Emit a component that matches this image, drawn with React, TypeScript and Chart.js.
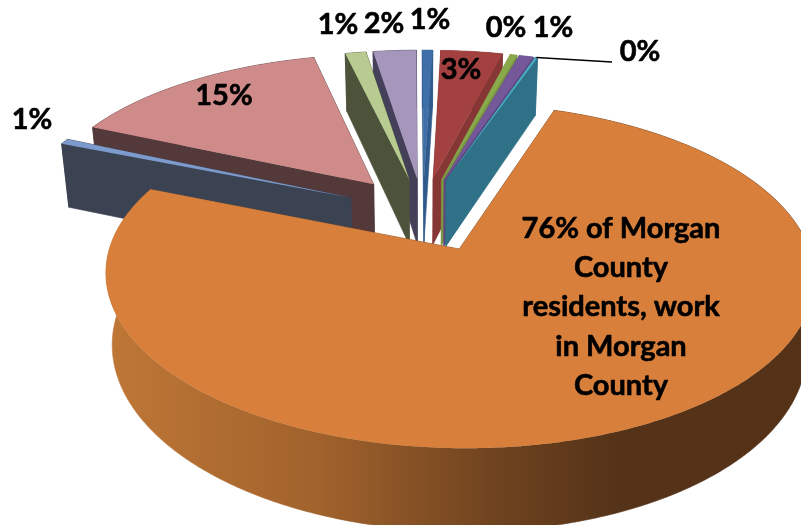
import React, { useEffect, useRef } from "react";
import { Chart, registerables } from "chart.js";

Chart.register(...registerables);

// Values, clockwise from 12 o'clock
const categories = ["Blue", "Red", "Green", "Violet", "Teal", "Morgan County", "Navy", "Rose", "Olive", "Lilac"];
const shares = [0.58, 3.47, 0.39, 0.8, 0.14, 75.81, 0.56, 14.67, 1.17, 2.42];
const explosion = [22, 22, 22, 22, 22, 25, 23.5, 23.5, 22, 22];
const sliceLabels = ["1%", "3%", "0%", "1%", "0%", "76% of Morgan\nCounty\nresidents, work\nin Morgan\nCounty", "1%", "15%", "1%", "2%"];

const topColors = ["#3F6FA8", "#A34140", "#8AA94B", "#75589A", "#4BACC6", "#D87F3B", "#7C9ACB", "#CE8B8A", "#B8CB90", "#A696BC"];
const wallColors = ["#2F5A8C", "#873636", "#7A9642", "#5F4680", "#2F7186", "#000000", "#3B4252", "#54393A", "#4D533A", "#45405A"];
const labelAnchors = [[430, 20], [461, 70], [506, 28], [553, 28], [640, 52], [621, 307], [32, 120], [224, 96], [338, 25], [384, 24]];

// Oblique perspective view of the pie plane (plane unit = one pie radius)
const VIEW = { x: 423, y: 212, a: 338, b: 157, p: 0.15, depth: 68, shrink: 0.98 };

function project(u: number, v: number, lower: boolean): [number, number] {
  const w = 1 - VIEW.p * v;
  const k = lower ? VIEW.shrink : 1;
  return [VIEW.x + (VIEW.a * u * k) / w, VIEW.y + (VIEW.b * v) / w + (lower ? VIEW.depth / w : 0)];
}

function fillPoly(ctx: CanvasRenderingContext2D, pts: [number, number][], style: any, seam = true) {
  ctx.beginPath();
  pts.forEach((p, i) => (i ? ctx.lineTo(p[0], p[1]) : ctx.moveTo(p[0], p[1])));
  ctx.closePath();
  ctx.fillStyle = style;
  ctx.fill();
  if (seam) {
    ctx.strokeStyle = style;
    ctx.lineWidth = 0.6;
    ctx.stroke();
  }
}

const pie3d = {
  id: "pie3d",
  beforeDatasetsDraw(chart: any) {
    const ctx: CanvasRenderingContext2D = chart.ctx;
    const arcs = chart.getDatasetMeta(0).data as any[];
    const mid = (el: any) => (el.startAngle + el.endAngle) / 2;
    const fromTop = (el: any) => {
      let d = mid(el) + Math.PI / 2;
      d = Math.atan2(Math.sin(d), Math.cos(d));
      return Math.abs(d);
    };
    const order = arcs.map((_, i) => i).sort((i, j) => fromTop(arcs[i]) - fromTop(arcs[j]));

    const wallGradient = ctx.createLinearGradient(106, 0, 815, 0);
    wallGradient.addColorStop(0, "#BF7736");
    wallGradient.addColorStop(0.3, "#A1622C");
    wallGradient.addColorStop(0.55, "#6F431F");
    wallGradient.addColorStop(0.72, "#553318");
    wallGradient.addColorStop(1, "#543117");

    ctx.save();
    order.forEach((i) => {
      const el = arcs[i];
      const e = explosion[i] / 100;
      const m = mid(el);
      const cu = Math.cos(m) * e;
      const cv = Math.sin(m) * e;
      const steps = Math.max(2, Math.ceil((el.endAngle - el.startAngle) / 0.01));
      const rimTop: [number, number][] = [];
      const rimLow: [number, number][] = [];
      for (let s = 0; s <= steps; s++) {
        const t = el.startAngle + ((el.endAngle - el.startAngle) * s) / steps;
        const u = cu + Math.cos(t);
        const v = cv + Math.sin(t);
        rimTop.push(project(u, v, false));
        rimLow.push(project(u, v, true));
      }
      const apexTop = project(cu, cv, false);
      const apexLow = project(cu, cv, true);
      const wall = i === 5 ? wallGradient : wallColors[i];
      fillPoly(ctx, [apexTop, rimTop[0], rimLow[0], apexLow], wall);
      fillPoly(ctx, [apexTop, rimTop[steps], rimLow[steps], apexLow], wall);
      fillPoly(ctx, [...rimTop, ...rimLow.slice().reverse()], wall);
      fillPoly(ctx, [apexTop, ...rimTop], topColors[i], false);
    });

    // Leader line of the Teal label
    const t = arcs[4];
    const tm = mid(t);
    const tip = project(Math.cos(tm) * (1 + explosion[4] / 100), Math.sin(tm) * (1 + explosion[4] / 100), false);
    ctx.beginPath();
    ctx.moveTo(tip[0], tip[1]);
    ctx.lineTo(labelAnchors[4][0] - 28, labelAnchors[4][1] + 10);
    ctx.strokeStyle = "#000000";
    ctx.lineWidth = 1.5;
    ctx.stroke();

    // Labels
    ctx.fillStyle = "#000000";
    ctx.strokeStyle = "#000000";
    ctx.lineWidth = 0.6;
    ctx.lineJoin = "round";
    ctx.font = "bold 29px Lato";
    ctx.textAlign = "center";
    ctx.textBaseline = "middle";
    sliceLabels.forEach((text, i) => {
      const lines = text.split("\n");
      const gap = 39.2;
      lines.forEach((line, k) => {
        const y = labelAnchors[i][1] + (k - (lines.length - 1) / 2) * gap;
        ctx.fillText(line, labelAnchors[i][0], y);
        ctx.strokeText(line, labelAnchors[i][0], y);
      });
    });
    ctx.restore();
    return false;
  },
};

export default function App() {
  const ref = useRef<HTMLCanvasElement>(null);
  useEffect(() => {
    const chart = new Chart(ref.current!, {
      type: "pie",
      data: {
        labels: categories,
        datasets: [{ data: shares, backgroundColor: topColors, offset: explosion, borderWidth: 0 }],
      },
      options: {
        animation: false,
        responsive: false,
        rotation: -0.3,
        layout: { padding: 0 },
        plugins: { legend: { display: false }, tooltip: { enabled: false } },
      },
      plugins: [pie3d],
    } as any);
    return () => chart.destroy();
  }, []);
  return (
    <canvas
      ref={ref}
      width={801}
      height={525}
      style={{ position: "absolute", left: 0, top: 0, width: 801, height: 525, display: "block" }}
    />
  );
}
